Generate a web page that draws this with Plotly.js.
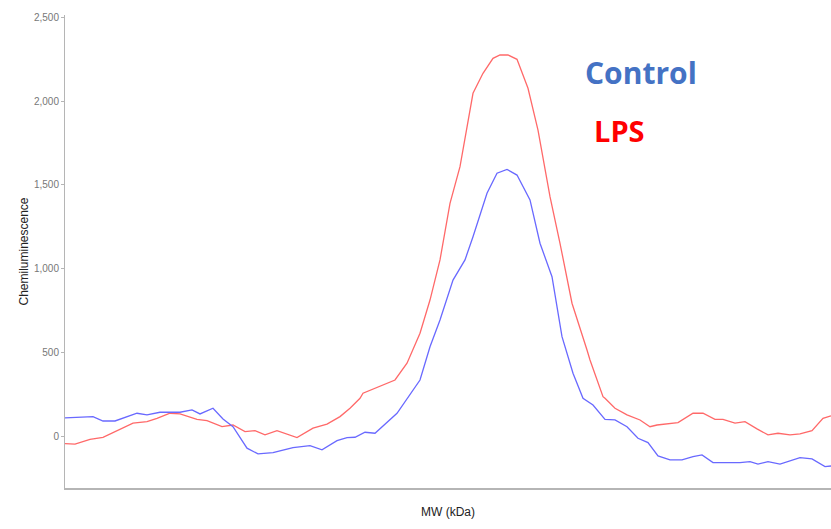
<!DOCTYPE html>
<html>
<head>
<meta charset="utf-8">
<script src="https://cdn.plot.ly/plotly-3.0.1.min.js"></script>
<style>html,body{margin:0;padding:0;background:#fff;}#chart{width:831px;height:529px;}</style>
</head>
<body>
<div id="chart"></div>
<script>
// Lane position (arbitrary MW axis units) and chemiluminescence values
const lpsPos = [0,10,25,38,68,82,92,105,115,132,142,157,168,180,190,200,212,232,248,262,275,285,295,298,330,342,355,365,375,385,395,403,408,418,428,435,443,452,463,473,485,495,507,522,525,538,540,550,562,575,585,592,613,628,638,650,658,670,680,692,703,713,725,735,747,758,766];
const lpsVal = [-40,-43,-14,-2,82,91,111,141,137,105,97,61,71,32,37,12,37,-4,52,76,121,171,230,260,339,439,617,815,1054,1391,1609,1867,2046,2165,2254,2274,2274,2248,2076,1827,1430,1153,796,518,458,240,230,171,131,101,61,71,85,141,141,105,105,82,91,48,12,22,12,18,37,111,125];
const ctrlPos = [0,15,28,38,50,72,82,95,115,127,135,148,158,168,182,193,208,228,245,257,272,282,290,300,310,332,355,365,375,388,400,408,422,432,442,452,465,475,487,497,508,518,528,540,550,562,573,583,593,605,617,628,637,648,675,685,693,703,715,735,747,760,766];
const ctrlVal = [113,119,121,95,95,141,131,147,147,161,137,171,107,61,-67,-101,-93,-64,-52,-77,-22,-4,-2,28,22,141,339,537,696,934,1054,1192,1451,1570,1593,1559,1411,1153,954,597,379,230,190,105,101,61,-8,-34,-113,-137,-137,-117,-107,-153,-153,-147,-162,-147,-162,-123,-131,-177,-173];
const yTicks = [0,500,1000,1500,2000,2500];
const yTickText = ['0','500','1,000','1,500','2,000','2,500'];
const seriesNames = ['LPS','Control'];

const traces = [
  {x: lpsPos, y: lpsVal, name: seriesNames[0], type: 'scatter', mode: 'lines',
   line: {color: 'rgb(255,105,105)', width: 1.3}},
  {x: ctrlPos, y: ctrlVal, name: seriesNames[1], type: 'scatter', mode: 'lines',
   line: {color: 'rgb(105,105,255)', width: 1.3}}
];

const layout = {
  width: 831, height: 529,
  margin: {l: 65, r: 0, t: 15, b: 41, pad: 0},
  paper_bgcolor: '#fff', plot_bgcolor: '#fff',
  showlegend: false,
  font: {family: 'Liberation Sans, Arial, sans-serif'},
  xaxis: {
    range: [0, 766], showgrid: false, zeroline: false,
    showticklabels: false, ticks: '',
    showline: true, linecolor: '#b5b5b5', linewidth: 2,
    title: {text: 'MW (kDa)', font: {size: 12, color: '#222'}, standoff: 19}
  },
  yaxis: {
    range: [-304, 2512], showgrid: false, zeroline: false,
    tickvals: yTicks, ticktext: yTickText,
    ticks: 'outside', ticklen: 3, tickcolor: '#b5b5b5', tickwidth: 1,
    tickfont: {size: 10, color: '#777'},
    showline: true, linecolor: '#b5b5b5', linewidth: 1,
    title: {text: 'Chemiluminescence', font: {size: 12, color: '#222'}, standoff: 2}
  },
  annotations: [
    {x: 641, y: 73, xref: 'paper', yref: 'paper', text: '<b>Control</b>', showarrow: false,
     font: {family: 'Open Sans, Liberation Sans, sans-serif', size: 30, color: '#4472C4'}},
    {x: 619, y: 130, xref: 'paper', yref: 'paper', text: '<b>LPS</b>', showarrow: false,
     font: {family: 'Open Sans, Liberation Sans, sans-serif', size: 29, color: '#FF0000'}}
  ]
};
// convert pixel anchor positions to paper coordinates
layout.annotations.forEach(a => {
  a.x = (a.x - 65) / 766;
  a.y = (488 - a.y) / 473;
  a.xanchor = 'center'; a.yanchor = 'middle';
});

Plotly.newPlot('chart', traces, layout, {displayModeBar: false, staticPlot: true});
</script>
</body>
</html>
